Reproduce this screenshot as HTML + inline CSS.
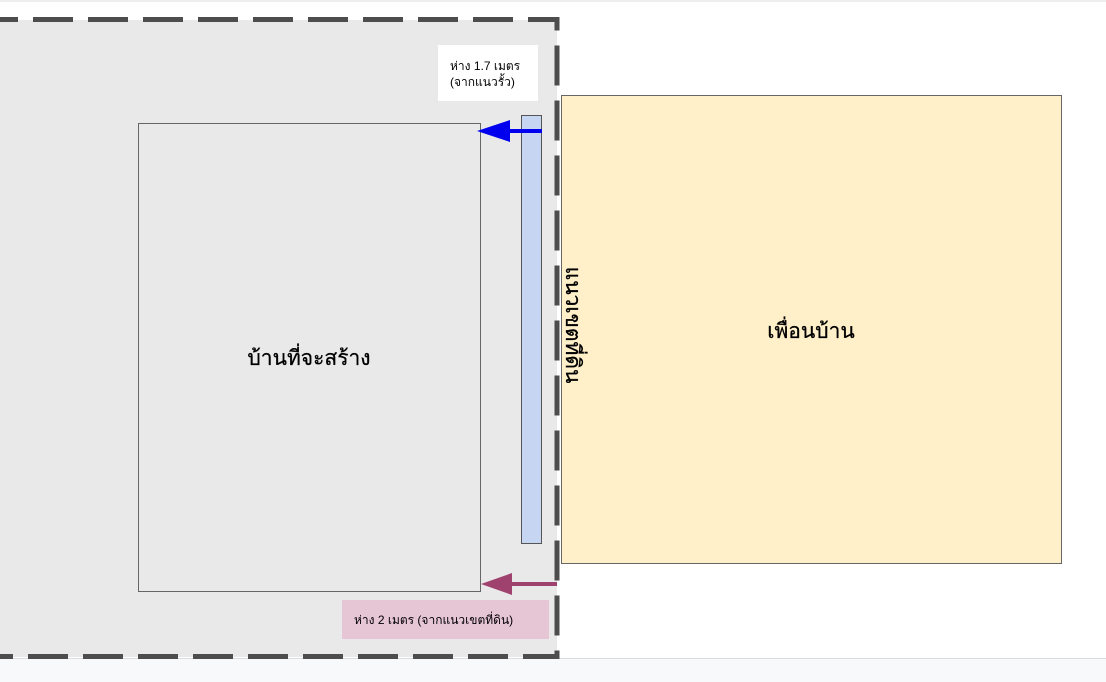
<!DOCTYPE html>
<html><head><meta charset="utf-8"><style>
html,body{margin:0;padding:0;background:#fff;}
body{width:1106px;height:682px;overflow:hidden;position:relative;font-family:"Liberation Sans","Noto Sans CJK SC",sans-serif;}
</style></head><body>
<svg width="1106" height="682" xmlns="http://www.w3.org/2000/svg" style="position:absolute;left:0;top:0">
<rect x="0" y="0" width="1106" height="682" fill="#fff"/>
<line x1="0" y1="1" x2="1106" y2="1" stroke="#dadce0" stroke-width="1"/>
<rect x="0" y="658" width="1106" height="24" fill="#f8f9fa"/>
<line x1="0" y1="658.5" x2="1106" y2="658.5" stroke="#dadce0" stroke-width="1"/>
<rect x="-5" y="20" width="562" height="637" fill="#e9e9e9"/>
<path d="M-22 19.5 H557 V656.5 H-22" fill="none" stroke="#4d4d4d" stroke-width="5" stroke-dasharray="40 15" stroke-dashoffset="0"/>
<rect x="438" y="45" width="100" height="56" fill="#fff"/>
<text x="450" y="70" font-size="12" fill="#000">ห่าง 1.7 เมตร</text>
<text x="450" y="86" font-size="12" fill="#000">(จากแนวรั้ว)</text>
<rect x="138.5" y="123.5" width="342" height="468" fill="#e9e9e9" stroke="#666" stroke-width="1"/>
<text x="309" y="365" font-size="21" text-anchor="middle" fill="#000" stroke="#000" stroke-width="0.3">บ้านที่จะสร้าง</text>
<rect x="521.5" y="115.5" width="20" height="428" fill="#c5d5f2" stroke="#555" stroke-width="1"/>
<rect x="561.5" y="95.5" width="500" height="468" fill="#fff0c9" stroke="#666" stroke-width="1"/>
<text x="811" y="338" font-size="21" text-anchor="middle" fill="#000" stroke="#000" stroke-width="0.3">เพื่อนบ้าน</text>
<text transform="translate(566,325) rotate(90)" font-size="21" text-anchor="middle" fill="#000" stroke="#000" stroke-width="0.3">แนวเขตที่ดิน</text>
<line x1="542" y1="131" x2="505" y2="131" stroke="#0000ee" stroke-width="4"/>
<polygon points="477,131 510,120 510,142" fill="#0000ee"/>
<line x1="557" y1="584" x2="508" y2="584" stroke="#a0426e" stroke-width="4"/>
<polygon points="481,584 512,573 512,595" fill="#a0426e"/>
<rect x="342" y="600" width="207" height="39" fill="#e6c5d5"/>
<text x="354" y="624" font-size="12" fill="#000">ห่าง 2 เมตร (จากแนวเขตที่ดิน)</text>
</svg>
</body></html>
